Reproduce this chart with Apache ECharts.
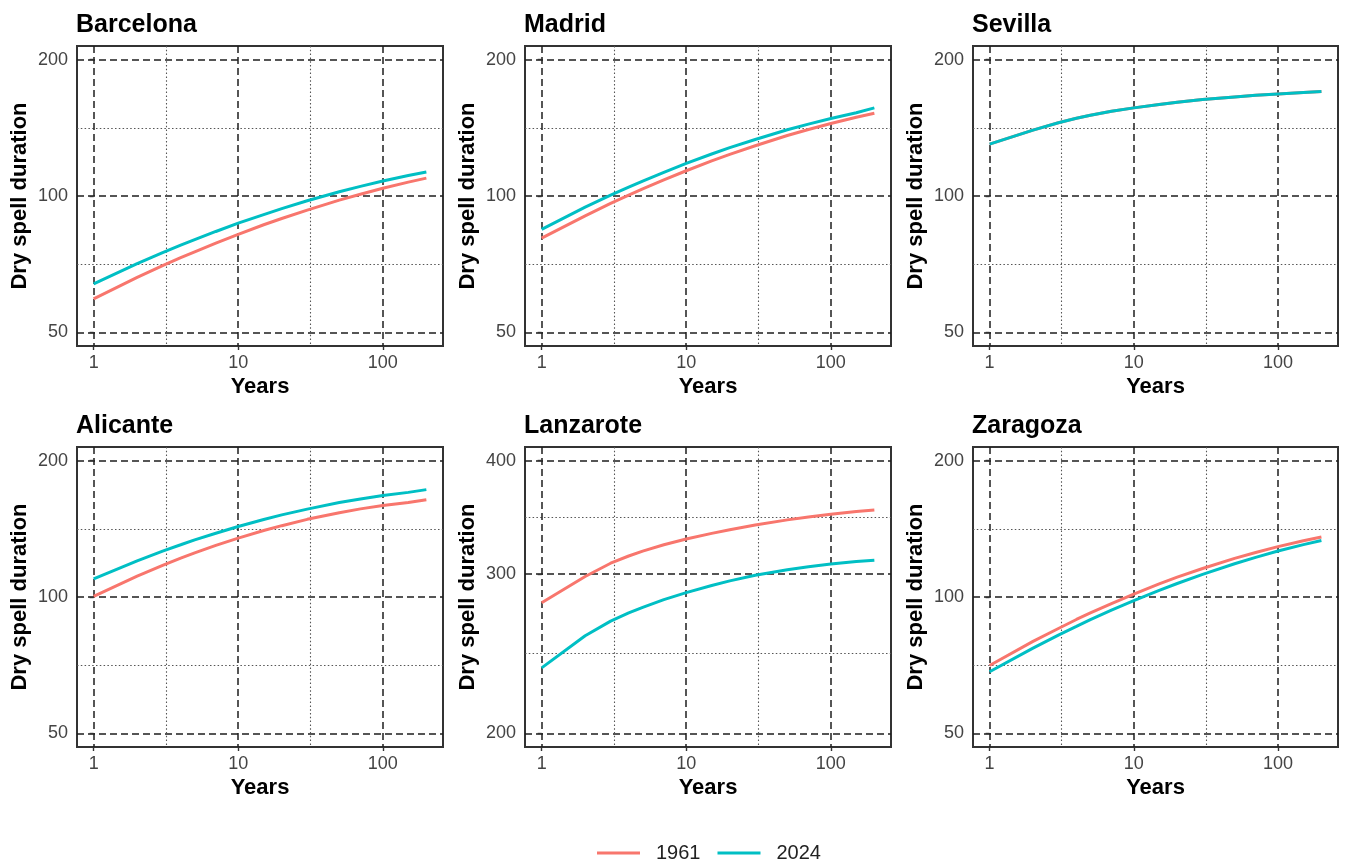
<!DOCTYPE html>
<html><head><meta charset="utf-8">
<script src="https://cdn.jsdelivr.net/npm/echarts@6/dist/echarts.min.js"></script>
<style>html,body{margin:0;padding:0;background:#fff}#chart{width:1346px;height:866px}</style>
</head><body><div id="chart"></div>
<script>
// ---------- data ----------
const cities = ['Barcelona', 'Madrid', 'Sevilla', 'Alicante', 'Lanzarote', 'Zaragoza'];
const years = [1, 2, 3, 4, 5, 7, 10, 15, 20, 30, 50, 70, 100, 150, 200];
const xTickLabels = [1, 10, 100];
const yTicksStd = [50, 100, 200];
const yTicksLanzarote = [200, 300, 400];
const seriesNames = ['1961', '2024'];

const barcelona1961 = [59.3, 66.1, 70.2, 73.1, 75.3, 78.7, 82.3, 86.4, 89.2, 93.1, 97.9, 100.9, 104.0, 107.3, 109.5];
const barcelona2024 = [64.0, 70.9, 75.0, 77.9, 80.1, 83.5, 87.1, 91.0, 93.8, 97.6, 102.2, 105.0, 107.9, 111.0, 113.0];
const madrid1961 = [80.7, 90.4, 96.3, 100.4, 103.7, 108.5, 113.7, 119.5, 123.6, 129.1, 136.0, 140.2, 144.6, 149.2, 152.3];
const madrid2024 = [84.4, 94.5, 100.4, 104.6, 107.9, 112.8, 118.0, 123.8, 127.9, 133.3, 140.0, 144.1, 148.3, 152.7, 156.5];
const sevilla1961 = [130.2, 139.8, 145.1, 148.5, 150.8, 153.9, 156.5, 159.2, 161.1, 163.3, 165.5, 166.9, 168.0, 169.2, 170.0];
const sevilla2024 = [130.2, 139.8, 145.1, 148.5, 150.8, 153.9, 156.5, 159.2, 161.1, 163.3, 165.5, 166.9, 168.0, 169.2, 170.0];
const alicante1961 = [100.3, 111.2, 117.4, 121.8, 125.1, 130.0, 134.9, 140.2, 143.7, 148.4, 153.5, 156.5, 159.2, 161.7, 164.0];
const alicante2024 = [109.7, 120.2, 126.3, 130.4, 133.7, 138.3, 143.1, 148.3, 151.8, 156.3, 161.6, 164.6, 167.5, 170.2, 172.6];
const lanzarote1961 = [278.8, 298.0, 308.2, 313.9, 317.8, 323.0, 327.8, 332.5, 335.6, 339.6, 344.1, 346.7, 349.0, 351.4, 352.8];
const lanzarote2024 = [236.2, 256.3, 266.0, 271.6, 275.5, 281.0, 286.0, 291.2, 294.7, 298.9, 303.1, 305.4, 307.5, 309.5, 310.6];
const zaragoza1961 = [70.6, 79.8, 85.2, 89.2, 92.2, 96.7, 101.5, 106.9, 110.6, 115.6, 121.7, 125.4, 129.2, 133.1, 135.6];
const zaragoza2024 = [68.4, 77.1, 82.4, 86.1, 89.1, 93.5, 98.2, 103.4, 107.1, 112.2, 118.4, 122.3, 126.3, 130.5, 133.3];

// ---------- layout / style ----------
const FONT = '"Liberation Sans", Arial, Helvetica, sans-serif';
const C1961 = '#F8766D', C2024 = '#00BFC4';
const panels = [
  { city: cities[0], v: [barcelona1961, barcelona2024], yt: yTicksStd, left: 77, top: 46, width: 366 },
  { city: cities[1], v: [madrid1961, madrid2024], yt: yTicksStd, left: 525, top: 46, width: 366 },
  { city: cities[2], v: [sevilla1961, sevilla2024], yt: yTicksStd, left: 973, top: 46, width: 365 },
  { city: cities[3], v: [alicante1961, alicante2024], yt: yTicksStd, left: 77, top: 447, width: 366 },
  { city: cities[4], v: [lanzarote1961, lanzarote2024], yt: yTicksLanzarote, left: 525, top: 447, width: 366 },
  { city: cities[5], v: [zaragoza1961, zaragoza2024], yt: yTicksStd, left: 973, top: 447, width: 365 }
];
const PH = 300;
const L = Math.log10;
function expand(a, b) { const r = b - a; return [a - 0.05 * r, b + 0.05 * r]; }
function mids(arr) { const o = []; for (let i = 0; i < arr.length - 1; i++) o.push((L(arr[i]) + L(arr[i + 1])) / 2); return o; }
const fmt = v => String(Math.round(Math.pow(10, v)));

const xr = expand(L(years[0]), L(years[years.length - 1]));
const xMaj = xTickLabels.map(L);
const xMin = mids(xTickLabels);

const grid = [], xAxis = [], yAxis = [], series = [], title = [];
const majorLine = { color: '#1e1e1e', width: 1.5, type: [7, 4] };
const minorLine = { color: '#555555', width: 1.1, type: [1.5, 2.3] };

panels.forEach((p, i) => {
  grid.push({ left: p.left, top: p.top, width: p.width, height: PH, show: true, borderColor: '#333', borderWidth: 2, backgroundColor: 'transparent' });
  title.push({ text: p.city, left: p.left - 1, top: p.top - 33, padding: 0,
    textStyle: { fontFamily: FONT, fontSize: 25, fontWeight: 'bold', color: '#000' } });
  const yr = expand(L(p.yt[0]), L(p.yt[p.yt.length - 1]));
  const yMaj = p.yt.map(L);
  const yMin = mids(p.yt);
  xAxis.push({
    type: 'value', gridIndex: i, position: 'bottom', min: xr[0], max: xr[1],
    axisLine: { show: false },
    axisTick: { show: true, length: 4, customValues: xMaj, lineStyle: { color: '#333', width: 1.4 } },
    axisLabel: { customValues: xMaj, formatter: fmt, fontSize: 18, color: '#444', margin: 8, fontFamily: FONT },
    splitLine: { show: true, lineStyle: majorLine },
    name: 'Years', nameLocation: 'middle', nameGap: 30,
    nameTextStyle: { fontSize: 22, fontWeight: 'bold', color: '#000', fontFamily: FONT }
  });
  xAxis.push({
    type: 'value', gridIndex: i, position: 'top', min: xr[0], max: xr[1],
    axisLine: { show: false }, axisTick: { show: false, customValues: xMin }, axisLabel: { show: false },
    splitLine: { show: true, lineStyle: minorLine }
  });
  yAxis.push({
    type: 'value', gridIndex: i, position: 'left', min: yr[0], max: yr[1],
    axisLine: { show: false },
    axisTick: { show: true, length: 4, customValues: yMaj, lineStyle: { color: '#333', width: 1.4 } },
    axisLabel: { customValues: yMaj, formatter: fmt, fontSize: 18, color: '#444', margin: 9, fontFamily: FONT },
    splitLine: { show: true, lineStyle: majorLine },
    name: 'Dry spell duration', nameLocation: 'middle', nameGap: 46,
    nameTextStyle: { fontSize: 22, fontWeight: 'bold', color: '#000', fontFamily: FONT }
  });
  yAxis.push({
    type: 'value', gridIndex: i, position: 'right', min: yr[0], max: yr[1],
    axisLine: { show: false }, axisTick: { show: false, customValues: yMin }, axisLabel: { show: false },
    splitLine: { show: true, lineStyle: minorLine }
  });
  [0, 1].forEach(s => {
    const col = s === 0 ? C1961 : C2024;
    series.push({
      type: 'line', name: seriesNames[s], xAxisIndex: 2 * i, yAxisIndex: 2 * i,
      data: years.map((y, k) => [L(y), L(p.v[s][k])]),
      symbol: 'none', showSymbol: false, smooth: false, silent: true, z: 3 + s,
      lineStyle: { width: 3, color: col }, itemStyle: { color: col }
    });
  });
});

const chart = echarts.init(document.getElementById('chart'), null, { renderer: 'canvas' });
chart.setOption({
  animation: false,
  backgroundColor: '#fff',
  textStyle: { fontFamily: FONT },
  title, grid, xAxis, yAxis, series,
  legend: {
    data: seriesNames.map(n => ({ name: n, icon: 'rect' })),
    left: 597, top: 843, padding: 0, itemWidth: 43, itemHeight: 3, itemGap: 17,
    textStyle: { fontSize: 20, color: '#222', fontFamily: FONT, padding: [0, 0, 0, 11] },
    selectedMode: false
  }
});
</script></body></html>
